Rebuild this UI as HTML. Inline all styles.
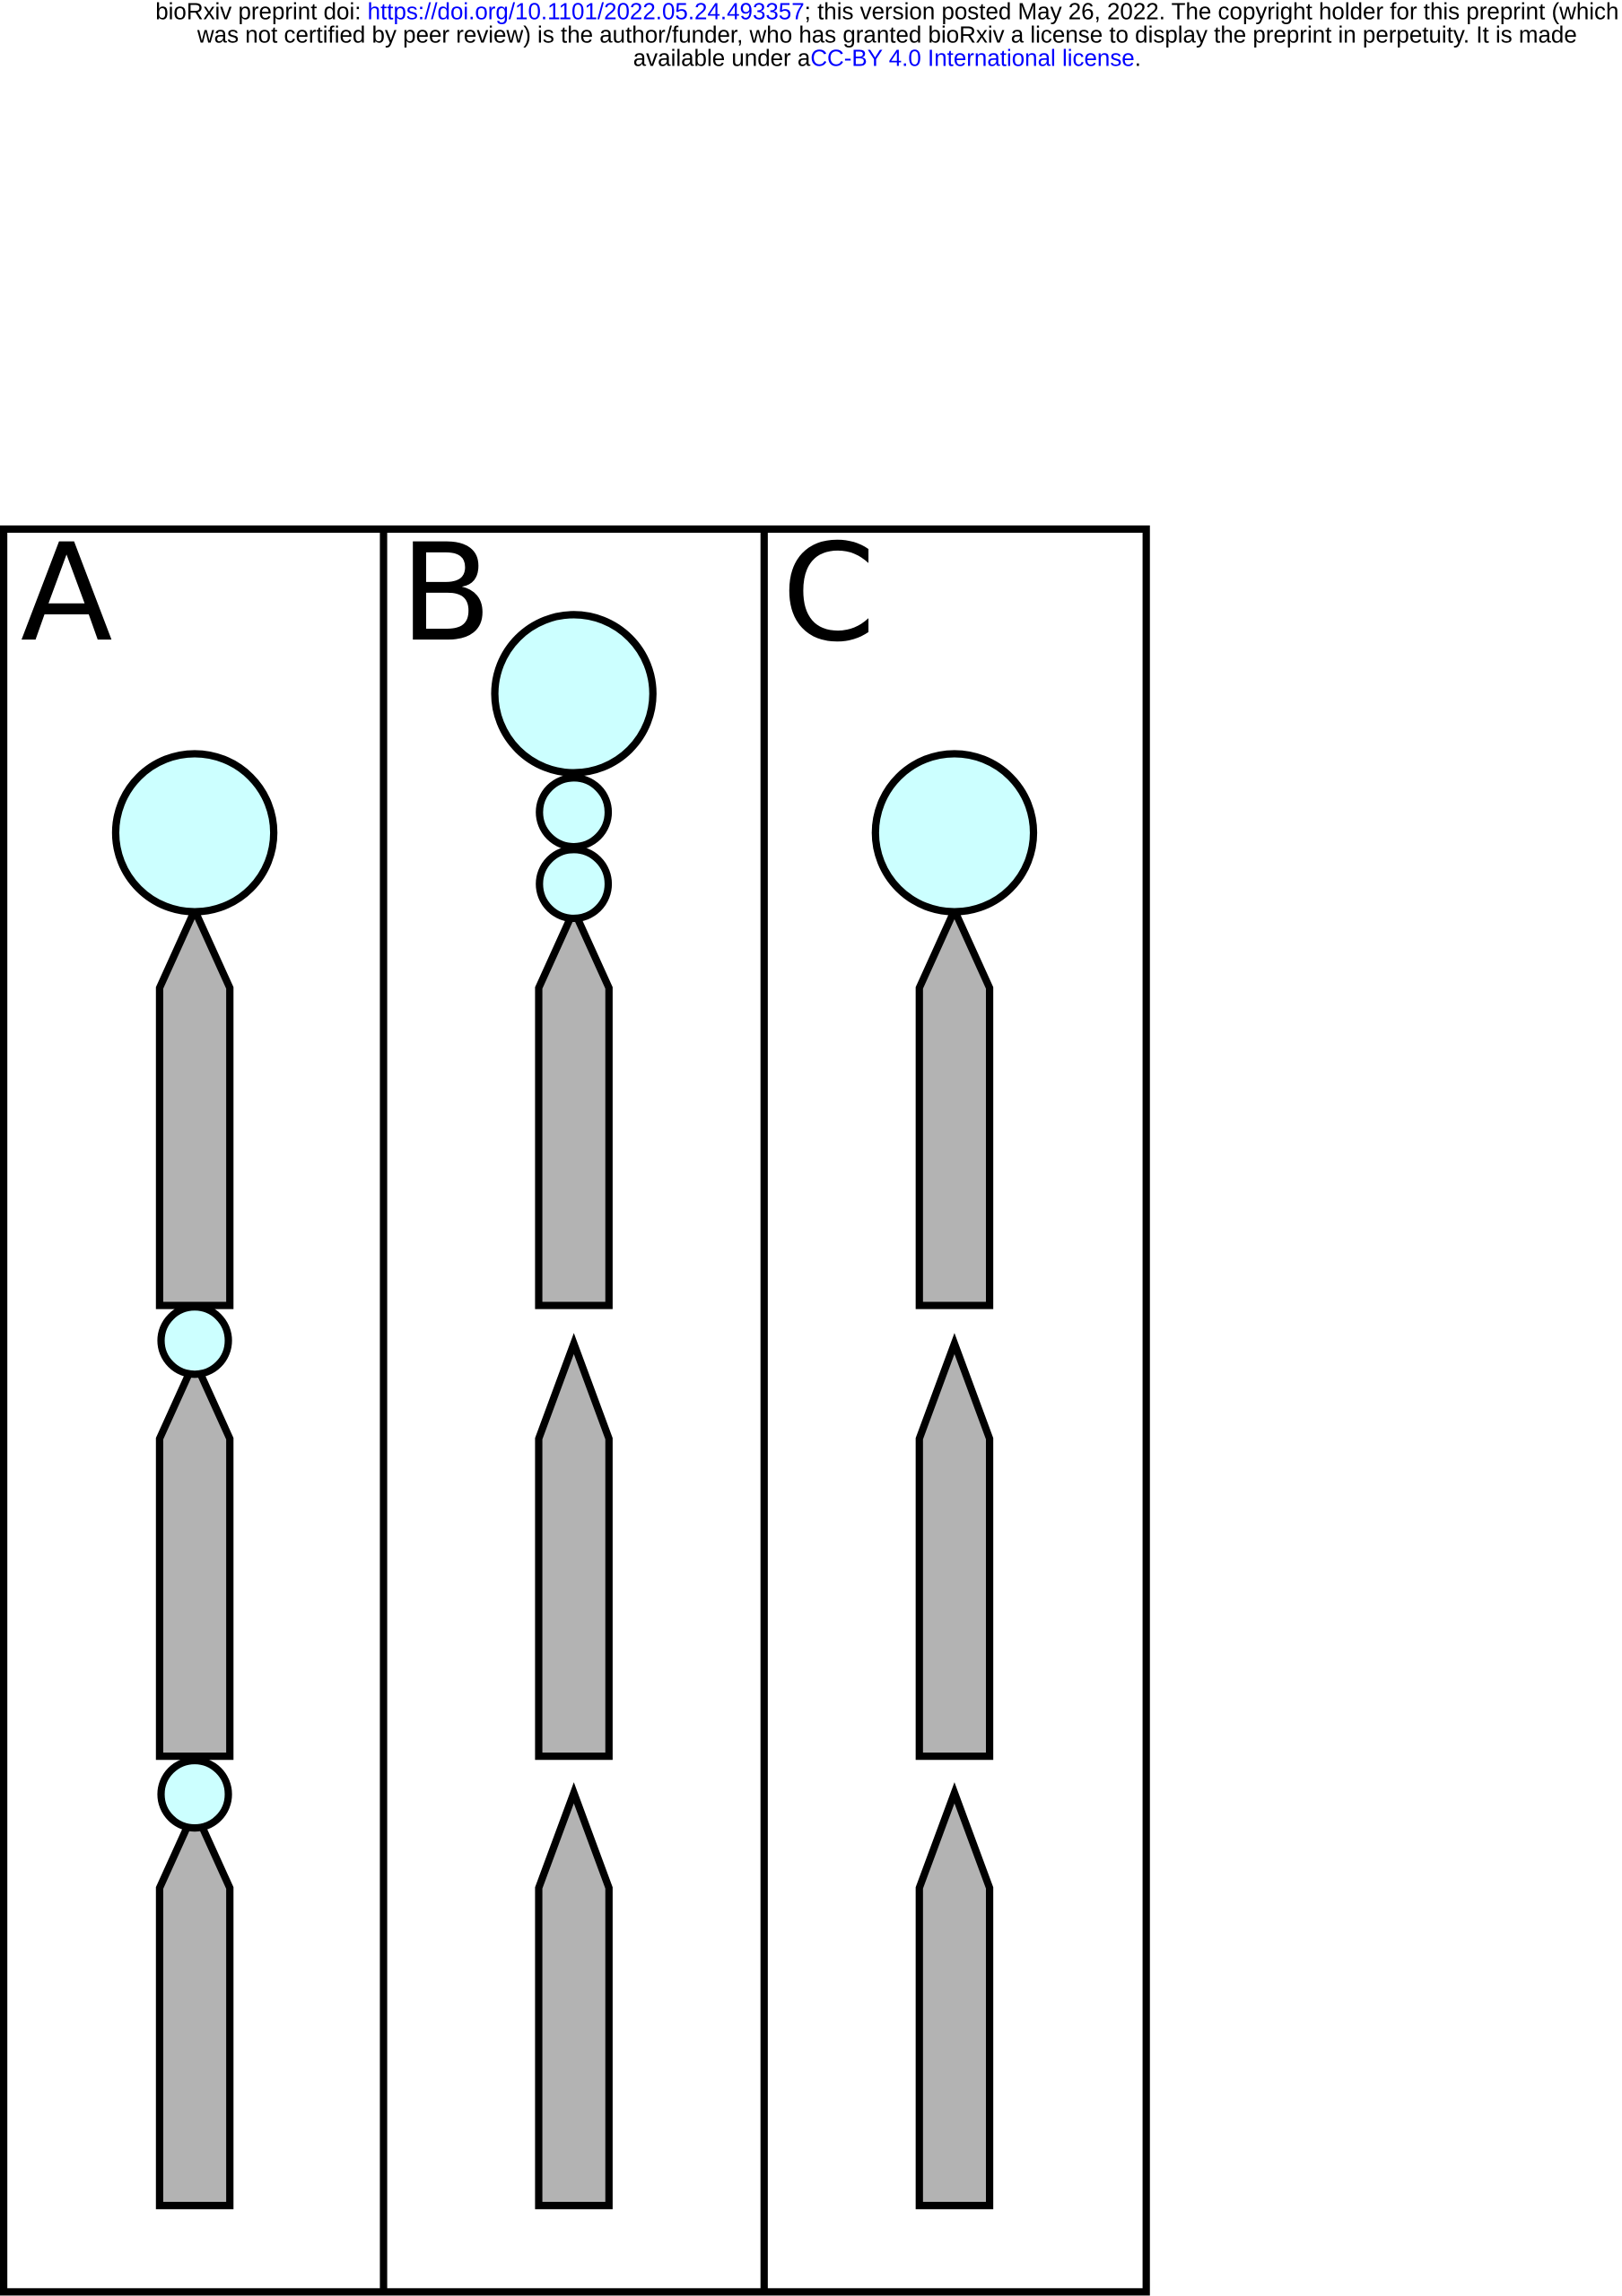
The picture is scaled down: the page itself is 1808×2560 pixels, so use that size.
<!DOCTYPE html>
<html><head><meta charset="utf-8"><style>
html,body{margin:0;padding:0;background:#fff;}
svg{display:block;}
</style></head><body>
<svg width="1808" height="2560" viewBox="0 0 1108 1568.8" xmlns="http://www.w3.org/2000/svg">
<rect width="1108" height="1568.8" fill="#fff"/>
<g font-family="Liberation Sans, Arial, sans-serif" font-size="15.9" text-anchor="middle" fill="#000">
<text x="606" y="13">bioRxiv preprint doi: <tspan fill="#0000ff">https://doi.org/10.1101/2022.05.24.493357</tspan>; this version posted May 26, 2022. The copyright holder for this preprint (which</text>
<text x="606" y="29">was not certified by peer review) is the author/funder, who has granted bioRxiv a license to display the preprint in perpetuity. It is made</text>
<text x="606" y="45">available under a<tspan fill="#0000ff">CC-BY 4.0 International license</tspan>.</text>
</g>
<g fill="none" stroke="#000" stroke-width="5">
<rect x="2.5" y="361.5" width="780.5" height="1204.5"/>
<line x1="262" y1="361.5" x2="262" y2="1566"/>
<line x1="522" y1="361.5" x2="522" y2="1566"/>
</g>
<g font-family="DejaVu Sans, sans-serif" font-size="92" fill="#000">
<text x="14" y="437">A</text>
<text x="273" y="437">B</text>
<text x="534" y="437">C</text>
</g>
<defs>
<path id="arr" d="M0,0 L24,53 L24,270 L-24,270 L-24,53 Z" fill="#b3b3b3" stroke="#000" stroke-width="5" stroke-linejoin="miter"/>
<path id="arr2" d="M0,0 L24,65 L24,282 L-24,282 L-24,65 Z" fill="#b3b3b3" stroke="#000" stroke-width="5" stroke-linejoin="miter"/>
</defs>
<use href="#arr" x="133" y="622"/>
<use href="#arr" x="133" y="930"/>
<use href="#arr" x="133" y="1237"/>
<use href="#arr" x="392" y="622"/>
<use href="#arr2" x="392" y="918"/>
<use href="#arr2" x="392" y="1225"/>
<use href="#arr" x="652" y="622"/>
<use href="#arr2" x="652" y="918"/>
<use href="#arr2" x="652" y="1225"/>
<g fill="#ccffff" stroke="#000" stroke-width="5">
<circle cx="133" cy="569" r="54"/>
<circle cx="133" cy="916" r="23"/>
<circle cx="133" cy="1226" r="23"/>
<circle cx="392" cy="474" r="54"/>
<circle cx="392" cy="555" r="23.5"/>
<circle cx="392" cy="604" r="23.5"/>
<circle cx="652" cy="569" r="54"/>
</g>
</svg>
</body></html>
